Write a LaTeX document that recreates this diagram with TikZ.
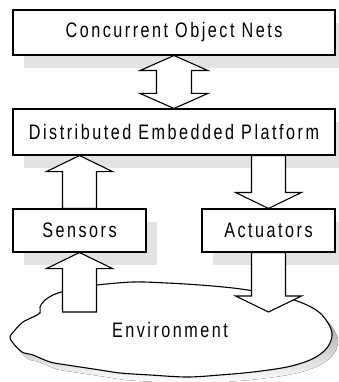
\documentclass[tikz,border=0pt]{standalone}
\usepackage{fontspec}
\setmainfont{Liberation Sans}[FakeStretch=0.77,LetterSpace=12]
\usetikzlibrary{calc,shadows}
\definecolor{shade}{gray}{0.89}
\tikzset{
  boxshadow/.style={drop shadow={shadow xshift=11pt,shadow yshift=-13pt,fill=shade,opacity=1}},
  label text/.style={font=\fontsize{21}{25}\selectfont},
  block/.style={draw, line width=1.1pt, fill=white, boxshadow, label text, inner sep=0pt},
  arrowbody/.style={draw, line width=1.1pt, fill=white, line join=miter},
}
% block arrow pointing up: tail anchor #1, tip anchor #2
\newcommand\upblock[2]{\path[arrowbody] let \p1=(#1), \p2=(#2) in
  (\x2,\y2) -- (\x2+33pt,\y2-16pt) -- (\x2+17pt,\y2-16pt) -- (\x2+17pt,\y1)
  -- (\x2-17pt,\y1) -- (\x2-17pt,\y2-16pt) -- (\x2-33pt,\y2-16pt) -- cycle;}
% block arrow pointing down: tail anchor #1, tip anchor #2
\newcommand\downblock[2]{\path[arrowbody] let \p1=(#1), \p2=(#2) in
  (\x2,\y2) -- (\x2+33pt,\y2+16pt) -- (\x2+17pt,\y2+16pt) -- (\x2+17pt,\y1)
  -- (\x2-17pt,\y1) -- (\x2-17pt,\y2+16pt) -- (\x2-33pt,\y2+16pt) -- cycle;}
% two-headed block arrow between an upper tip #1 and a lower tip #2
\newcommand\twowayblock[2]{\path[arrowbody] let \p1=(#1), \p2=(#2) in
  (\x1,\y1) -- (\x1+34pt,\y1-15pt) -- (\x1+17.5pt,\y1-15pt) -- (\x1+17.5pt,\y2+15pt)
  -- (\x1+34pt,\y2+15pt) -- (\x2,\y2) -- (\x1-34pt,\y2+15pt) -- (\x1-17.5pt,\y2+15pt)
  -- (\x1-17.5pt,\y1-15pt) -- (\x1-34pt,\y1-15pt) -- cycle;}
\def\cloudpath{plot[smooth cycle, tension=0.55] coordinates {
  (40,307) (44,301) (53,295) (65,291) (80,288) (97,285) (133,282) (167,283)
  (200,285) (233,288) (260,292) (285,297) (307,305) (320,313) (328,323)
  (332,333) (330,343) (323,352) (310,360) (287,367) (253,372) (220,375)
  (187,377) (150,375) (120,373) (100,370) (67,365) (50,362) (33,355)
  (22,352) (13,343) (10,337) (15,330) (23,322) (33,317) (40,313)}}
\begin{document}
\begin{tikzpicture}[x=1pt,y=-1pt]
\useasboundingbox (0,0) rectangle (339,382);
% environment cloud with its shadow
\fill[shade, shift={(6,7)}] \cloudpath;
\draw[line width=1.1pt, fill=white] \cloudpath;
\node[label text] (env) at (170,330) {Environment};
\coordinate (envin) at (80,312);
\coordinate (envout) at (268.5,312);
% layers
\node[block, minimum width=322pt, minimum height=45pt] (con) at (174,32.5) {Concurrent Object Nets};
\node[block, minimum width=322pt, minimum height=46pt] (plat) at (174,132) {Distributed Embedded Platform};
\node[block, minimum width=133pt, minimum height=43pt] (sens) at (79.5,230.5) {Sensors};
\node[block, minimum width=133pt, minimum height=43pt] (act) at (268.5,230.5) {Actuators};
% flows between layers
\twowayblock{con.south}{plat.north}
\upblock{sens.north}{plat.south -| sens.north}
\downblock{plat.south -| act.north}{act.north}
\upblock{envin}{sens.south}
\downblock{act.south}{envout}
\end{tikzpicture}
\end{document}
